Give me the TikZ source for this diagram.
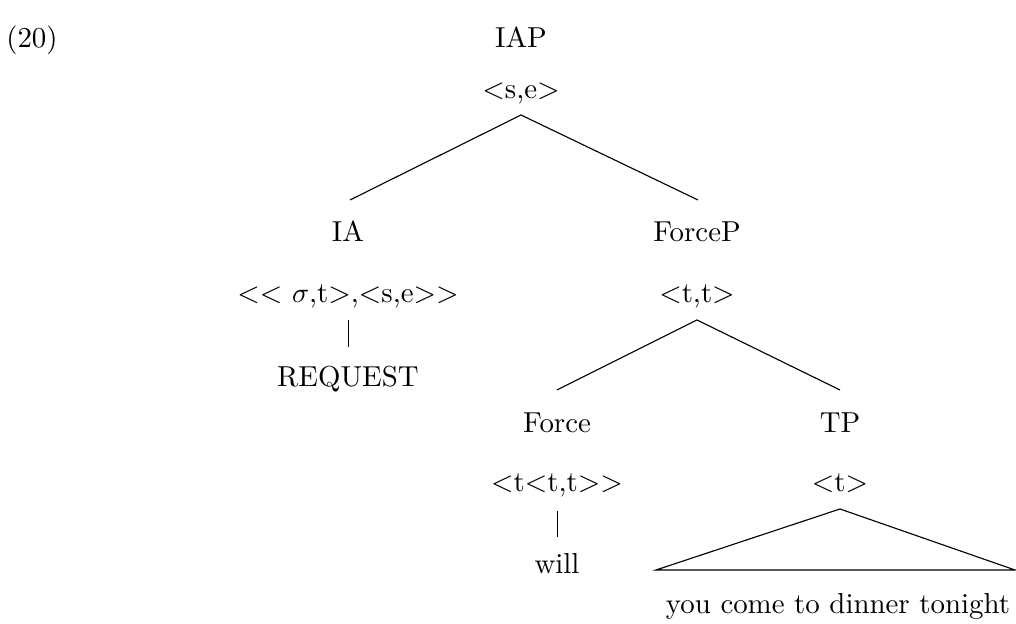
\documentclass[tikz,border=0pt]{standalone}
\begin{document}
\begin{tikzpicture}[x=0.3534pt,y=-0.3534pt,
  lbl/.style={anchor=base,inner sep=0pt,font=\fontsize{10.2}{12}\selectfont},
  branch/.style={line width=0.4pt}]
\useasboundingbox (0,0) rectangle (1016,624);
% example number
\node[lbl] (ex) at (32,48) {(20)};
% root
\node[lbl] (iap) at (521,48) {IAP};
\node[lbl] (iapt) at (521,99) {<s,e>};
% left daughter
\node[lbl] (ia) at (348,242) {IA};
\node[lbl] (iat) at (348,303) {<{}< $\sigma$,t>,<s,e>{}>};
\node[lbl] (req) at (348,387) {REQUEST};
% right daughter
\node[lbl] (fp) at (697,242) {ForceP};
\node[lbl] (fpt) at (697,303) {<t,t>};
\node[lbl] (f) at (557,433) {Force};
\node[lbl] (ft) at (557,492) {<t<t,t>{}>};
\node[lbl] (will) at (557,574) {will};
\node[lbl] (tp) at (840,433) {TP};
\node[lbl] (tpt) at (840,492) {<t>};
\node[lbl] (yield) at (838,614) {you come to dinner tonight};
% branch points
\coordinate (r0) at (521,115);
\coordinate (r1) at (350,200);
\coordinate (r2) at (698,200);
\coordinate (a0) at (348.5,320);
\coordinate (a1) at (348.5,347);
\coordinate (p0) at (697,320);
\coordinate (p1) at (557,390);
\coordinate (p2) at (840,390);
\coordinate (h0) at (557.5,511);
\coordinate (h1) at (557.5,537);
\coordinate (t0) at (840,509);
\coordinate (t1) at (656,570);
\coordinate (t2) at (1015,570);
% branches
\draw[branch] (r1) -- (r0) -- (r2);
\draw[branch] (a0) -- (a1);
\draw[branch] (p1) -- (p0) -- (p2);
\draw[branch] (h0) -- (h1);
\draw[branch] (t0) -- (t1) -- (t2) -- cycle;
\end{tikzpicture}
\end{document}
